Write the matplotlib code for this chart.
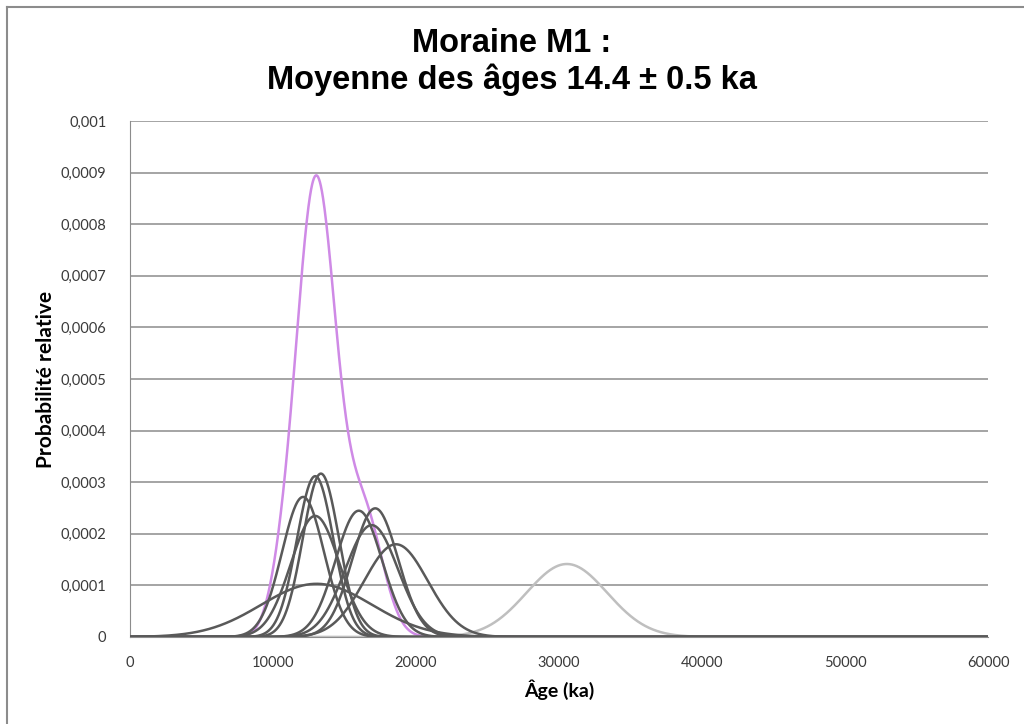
import numpy as np
import matplotlib.pyplot as plt
from matplotlib.lines import Line2D
from matplotlib.ticker import FuncFormatter

# Âges des blocs (années) et incertitudes (1 sigma)
ages = [12100, 12950, 13350, 12950, 13050, 16000, 17150, 16900, 18600]
incertitudes = [1470, 1280, 1260, 1700, 3870, 1630, 1600, 1840, 2220]

# Âge écarté (courbe gris clair)
age_ecarte = 30550
incertitude_ecarte = 2820

# Courbe cumulée (violette) : composantes
cumul_centres = [13000, 16400, 10500]
cumul_sigmas = [1400, 1300, 900]
cumul_hauteurs = [0.000886, 0.000228, 0.00005]

x_ticks = [0, 10000, 20000, 30000, 40000, 50000, 60000]
y_ticks = [0, 0.0001, 0.0002, 0.0003, 0.0004, 0.0005, 0.0006, 0.0007, 0.0008, 0.0009, 0.001]

x = np.linspace(0, 60000, 3001)


def gauss(x, mu, sigma):
    return np.exp(-0.5 * ((x - mu) / sigma) ** 2) / (sigma * np.sqrt(2 * np.pi))


fig = plt.figure(figsize=(10.24, 7.24), dpi=100)
ax = fig.add_axes([130 / 1024, 1 - 637 / 724, 858 / 1024, 516 / 724])

cumul = np.zeros_like(x)
for c, s, h in zip(cumul_centres, cumul_sigmas, cumul_hauteurs):
    cumul += h * np.exp(-0.5 * ((x - c) / s) ** 2)
ax.plot(x, cumul, color='#cf8ae6', lw=1.8, zorder=3)

ax.plot(x, gauss(x, age_ecarte, incertitude_ecarte), color='#bfbfbf', lw=1.8, zorder=4)

for mu, sigma in zip(ages, incertitudes):
    ax.plot(x, gauss(x, mu, sigma), color='#595959', lw=1.8, zorder=5)

ax.set_xlim(0, 60000)
ax.set_ylim(0, 0.001)
ax.set_xticks(x_ticks)
ax.set_yticks(y_ticks)
ax.yaxis.set_major_formatter(FuncFormatter(lambda v, p: '0' if v == 0 else f'{v:.4f}'.rstrip('0').replace('.', ',')))
ax.grid(True, axis='y', color='#8c8c8c', lw=1.1)
ax.set_axisbelow(True)
for s in ['top', 'right']:
    ax.spines[s].set_visible(False)
ax.spines['left'].set_color('#8c8c8c')
ax.spines['bottom'].set_color('#8c8c8c')
ax.tick_params(length=0, labelsize=10.5, colors='#3a3a3a')
ax.tick_params(axis='y', pad=17)
ax.tick_params(axis='x', pad=14)
for lab in ax.get_xticklabels() + ax.get_yticklabels():
    lab.set_family('Lato')

ax.set_xlabel('Âge (ka)', family='Lato', fontsize=14, fontweight='bold')
ax.set_ylabel('Probabilité relative', family='Lato', fontsize=15, fontweight='bold')
ax.xaxis.set_label_coords(0.5, -0.082)
ax.yaxis.set_label_coords(-0.086, 0.5)

fig.text(0.5, 1 - 43 / 724, 'Moraine M1 :', ha='center', va='center',
         family='Liberation Sans', fontsize=23.5, fontweight='bold')
fig.text(0.5, 1 - 80 / 724, 'Moyenne des âges 14.4 ± 0.5 ka', ha='center', va='center',
         family='Liberation Sans', fontsize=23.5, fontweight='bold')

# cadre du graphique (bords gauche et haut visibles)
fig.add_artist(Line2D([6.5 / 1024, 6.5 / 1024], [0, 1 - 6.5 / 724], color='#8c8c8c', lw=1.5))
fig.add_artist(Line2D([6.5 / 1024, 1], [1 - 6.5 / 724, 1 - 6.5 / 724], color='#8c8c8c', lw=1.5))

plt.savefig('out.png', dpi=100)
